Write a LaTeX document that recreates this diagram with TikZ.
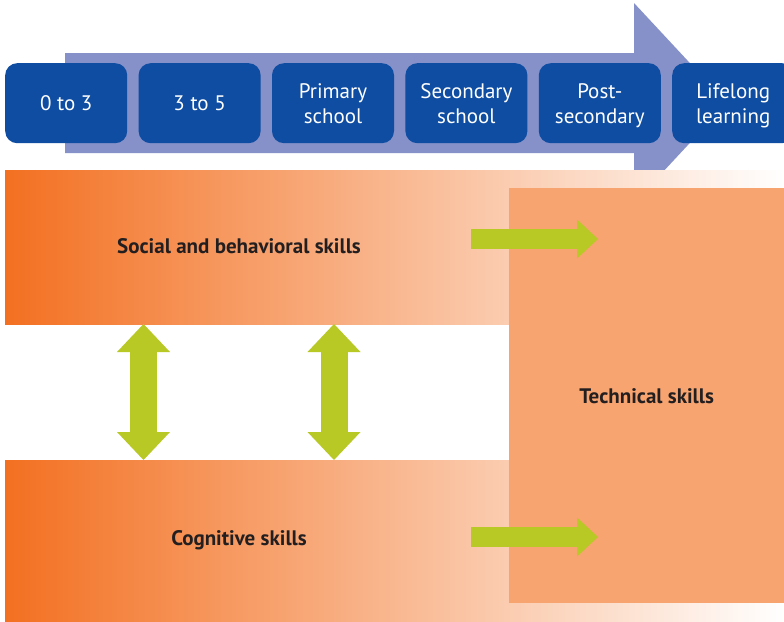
\documentclass[tikz,border=0pt]{standalone}
\usepackage{fontspec}
\setmainfont{PT Sans}
\usetikzlibrary{positioning, arrows.meta}
\definecolor{stageblue}{HTML}{0E4DA2}
\definecolor{timeline}{HTML}{8591C8}
\definecolor{skillorange}{HTML}{F37021}
\definecolor{skillpeach}{HTML}{F9B384}
\definecolor{techsalmon}{HTML}{F8A470}
\definecolor{linkgreen}{HTML}{B8C825}
\definecolor{labeltext}{HTML}{231F20}
\tikzset{
node distance=11pt,
stage/.style={%
    rectangle,
    rounded corners=12pt,
    fill=stageblue,
    text=white,
    minimum width=122pt,
    minimum height=80pt,
    inner sep=0pt,
    text depth=0pt,
    align=center,
    font=\fontsize{21}{25}\selectfont
},
band/.style={%
    rectangle,inner sep=0pt,minimum width=779pt,
    left color=skillorange,middle color=skillpeach,right color=white,
    anchor=north west
},
skill/.style={font=\bfseries\fontsize{21}{24}\selectfont,text=labeltext},
link/.style={linkgreen,line width=20pt,-{Triangle[width=39pt,length=21pt,line width=0pt]}},
twoway/.style={linkgreen,line width=27pt,
    {Triangle[width=53pt,length=28pt,line width=0pt]}-{Triangle[width=53pt,length=28pt,line width=0pt]}},
}

\begin{document}
\begin{tikzpicture}[x=1pt,y=-1pt]

\clip (0,0) rectangle (784,621);
\fill[white] (0,0) rectangle (784,621);

% timeline arrow behind the stages
\fill[timeline] (65,53) -- (634,53) -- (634,3) -- (727,103)
    -- (634,203) -- (634,153) -- (65,153) -- cycle;

\node[stage,anchor=north west] (s0) at (5,63) {0 to 3};
\node[stage,right=of s0] (s3) {3 to 5};
\node[stage,right=of s3] (primary) {Primary\\school};
\node[stage,right=of primary] (secondary) {Secondary\\school};
\node[stage,right=of secondary] (post) {Post-\\secondary};
\node[stage,right=of post] (lifelong) {Lifelong\\learning};

% skill bands
\node[band,minimum height=154pt] (social band) at (5,170) {};
\node[band,minimum height=161pt] (cognitive band) at (5,460) {};
\node[rectangle,inner sep=0pt,fill=techsalmon,minimum width=275pt,
    minimum height=415pt,anchor=north west,skill] (tech) at (509,188) {Technical skills};

\node[skill] (social) at (239,246) {Social and behavioral skills};
\node[skill] (cognitive) at (239,540) {Cognitive skills};

\coordinate (social out) at (471,239);
\coordinate (social in) at (598,239);
\coordinate (cognitive out) at (471,537);
\coordinate (cognitive in) at (598,537);
\draw[link] (social out) -- (social in);
\draw[link] (cognitive out) -- (cognitive in);

\coordinate (l top) at (143.5,324);
\coordinate (l bottom) at (143.5,460);
\coordinate (r top) at (334,324);
\coordinate (r bottom) at (334,460);
\draw[twoway] (l top) -- (l bottom);
\draw[twoway] (r top) -- (r bottom);

\end{tikzpicture}
\end{document}
